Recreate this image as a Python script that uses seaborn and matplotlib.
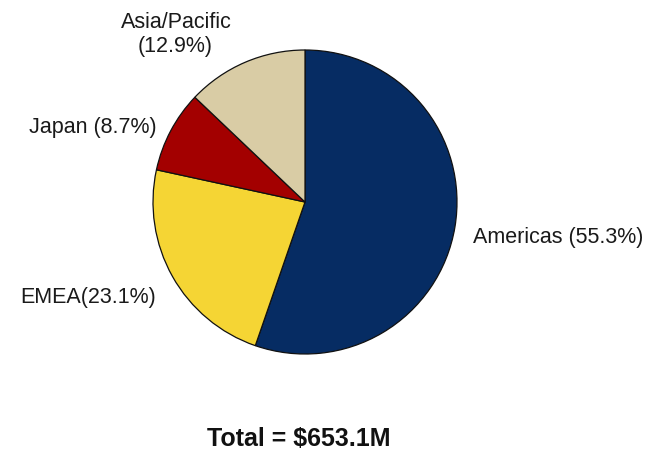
import matplotlib
matplotlib.use("Agg")
import matplotlib.pyplot as plt
import seaborn as sns

# Revenue split by region
regions = ["Americas", "EMEA", "Japan", "Asia/Pacific"]
shares = [55.3, 23.1, 8.7, 12.9]
total_label = "Total = $653.1M"
region_colors = ["#062c63", "#f5d534", "#a30000", "#d9cca5"]

sns.set_theme(style="white")
plt.rcParams["font.family"] = ["Liberation Sans", "DejaVu Sans"]

W, H = 646, 456
fig = plt.figure(figsize=(W / 100, H / 100), dpi=100)
fig.patch.set_facecolor("white")

# pie centred at (305, 203) px from top-left, radius 152 px
cx, cy, r = 305, 203, 152
ax = fig.add_axes([(cx - r) / W, (H - cy - r) / H, 2 * r / W, 2 * r / H])
ax.pie(
    shares,
    colors=sns.color_palette(region_colors),
    startangle=90,
    counterclock=False,
    radius=1.0,
    wedgeprops=dict(edgecolor="#111111", linewidth=0.9),
)
ax.set_xlim(-1.0, 1.0)
ax.set_ylim(-1.0, 1.0)
ax.set_aspect("equal")
ax.axis("off")

def fig_text(x, y, s, **kw):
    # x, y in pixels from the top-left corner
    fig.text(x / W, 1 - y / H, s, color="#1a1a1a", va="center_baseline", **kw)

fs = 15.5
fig_text(473, 235, f"{regions[0]} ({shares[0]:.1f}%)", fontsize=fs, ha="left")
fig_text(156, 295, f"{regions[1]}({shares[1]:.1f}%)", fontsize=fs, ha="right")
fig_text(157, 125, f"{regions[2]} ({shares[2]:.1f}%)", fontsize=fs, ha="right")
fig_text(176, 20, regions[3], fontsize=fs, ha="center")
fig_text(175, 44, f"({shares[3]:.1f}%)", fontsize=fs, ha="center")

fig.text(298.5 / W, 1 - 437 / H, total_label, fontsize=18, fontweight="bold",
         ha="center", va="center_baseline", color="#111111")

fig.savefig("out.png", dpi=100, facecolor="white")
